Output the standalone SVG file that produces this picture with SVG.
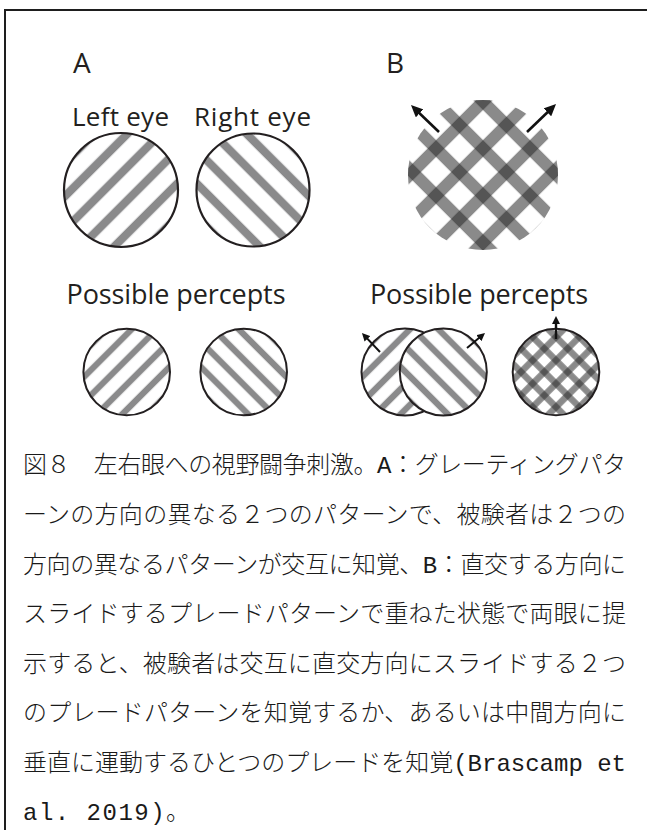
<svg xmlns="http://www.w3.org/2000/svg" width="647" height="830" viewBox="0 0 647 830">
  <style>
    .frame { fill: none; stroke: #1e1e1e; stroke-width: 2; }
    .panel { font-family: "Open Sans", "Noto Sans", sans-serif; fill: #231f20; }
    .ring { fill: none; stroke: #231f20; stroke-width: 2.2; }
    .ring-s { fill: none; stroke: #231f20; stroke-width: 2; }
    .arrow { stroke: #111; fill: none; }
    .cap { font-family: "Liberation Mono", "Noto Sans CJK JP", monospace; font-size: 24px; font-weight: 300; fill: #1a1a1a; }
  </style>
  <defs>
    <!-- single-orientation gratings; stripes are centred at ±p/2, ±3p/2 about the local origin -->
    <pattern id="grating-lg" patternUnits="userSpaceOnUse" x="0" y="-100" width="23.5" height="200">
      <rect x="7.6" y="-100" width="8.3" height="400" fill="#8a8a8b"/>
    </pattern>
    <pattern id="grating-sm" patternUnits="userSpaceOnUse" x="0" y="-100" width="17.8" height="200">
      <rect x="5.75" y="-100" width="6.3" height="400" fill="#8a8a8b"/>
    </pattern>
    <!-- translucent bars for plaids: overlaps come out darker -->
    <pattern id="plaid-lg" patternUnits="userSpaceOnUse" x="0" y="-150" width="33.2" height="300">
      <rect x="10.6" y="-150" width="12" height="600" fill="#292929" fill-opacity="0.55"/>
    </pattern>
    <pattern id="plaid-sm" patternUnits="userSpaceOnUse" x="0" y="-100" width="16.5" height="200">
      <rect x="5" y="-100" width="6.5" height="400" fill="#292929" fill-opacity="0.55"/>
    </pattern>
    <clipPath id="clip-plaid" clipPathUnits="userSpaceOnUse">
      <circle cx="483" cy="175" r="75"/>
    </clipPath>
    <marker id="head-lg" markerUnits="userSpaceOnUse" markerWidth="12" markerHeight="11" refX="6" refY="5.5" orient="auto">
      <path d="M0,0 L12,5.5 L0,11 z" fill="#111"/>
    </marker>
    <marker id="head-sm" markerUnits="userSpaceOnUse" markerWidth="8" markerHeight="8" refX="4" refY="4" orient="auto">
      <path d="M0,0 L8,4 L0,8 z" fill="#111"/>
    </marker>
  </defs>

  <!-- box edges -->
  <path class="frame" d="M5,830 V10 H647"/>

  <!-- panel A -->
  <g id="panel-a">
    <text class="panel" x="73" y="73" font-size="28">A</text>
    <text class="panel" x="72" y="126" font-size="26" textLength="97" lengthAdjust="spacing">Left eye</text>
    <text class="panel" x="194" y="126" font-size="26" textLength="117" lengthAdjust="spacing">Right eye</text>
    <text class="panel" x="66.5" y="304" font-size="27" textLength="219" lengthAdjust="spacing">Possible percepts</text>
  </g>

  <g id="left-eye" transform="translate(121,190)">
    <circle r="57" fill="url(#grating-lg)" transform="rotate(45)"/>
    <circle r="57" class="ring"/>
  </g>
  <g id="right-eye" transform="translate(253,190)">
    <circle r="56.5" fill="url(#grating-lg)" transform="rotate(-45)"/>
    <circle r="56.5" class="ring"/>
  </g>
  <g id="percept-a1" transform="translate(126.7,372)">
    <circle r="43.3" fill="url(#grating-sm)" transform="rotate(45)"/>
    <circle r="43.3" class="ring-s"/>
  </g>
  <g id="percept-a2" transform="translate(243.7,372)">
    <circle r="43.3" fill="url(#grating-sm)" transform="rotate(-45)"/>
    <circle r="43.3" class="ring-s"/>
  </g>

  <!-- panel B -->
  <g id="panel-b">
    <text class="panel" x="386" y="73" font-size="28">B</text>
    <text class="panel" x="370" y="304" font-size="27" textLength="218" lengthAdjust="spacing">Possible percepts</text>
  </g>

  <g id="plaid" clip-path="url(#clip-plaid)">
    <g transform="translate(483,172) rotate(45)">
      <rect x="-120" y="-120" width="240" height="240" fill="url(#plaid-lg)"/>
    </g>
    <g transform="translate(483,172) rotate(-45)">
      <rect x="-120" y="-120" width="240" height="240" fill="url(#plaid-lg)"/>
    </g>
  </g>

  <g id="percept-b1" transform="translate(405,372)">
    <circle r="43.5" fill="url(#grating-sm)" transform="rotate(45)"/>
    <circle r="43.5" class="ring-s"/>
  </g>
  <g id="percept-b2" transform="translate(443.3,372)">
    <circle r="43.5" fill="#fff"/>
    <circle r="43.5" fill="url(#grating-sm)" transform="rotate(-45)"/>
    <circle r="43.5" class="ring-s"/>
  </g>
  <g id="percept-b3" transform="translate(556,372)">
    <circle r="43.3" fill="url(#plaid-sm)" transform="rotate(45)"/>
    <circle r="43.3" fill="url(#plaid-sm)" transform="rotate(-45)"/>
    <circle r="43.3" class="ring-s"/>
  </g>

  <!-- motion-direction arrows -->
  <g id="connectors">
    <line class="arrow" stroke-width="2.6" x1="439" y1="132" x2="415.3" y2="109.2" marker-end="url(#head-lg)"/>
    <line class="arrow" stroke-width="2.6" x1="527" y1="132" x2="551.7" y2="108.2" marker-end="url(#head-lg)"/>
    <line class="arrow" stroke-width="2" x1="380" y1="352" x2="364.7" y2="335.9" marker-end="url(#head-sm)"/>
    <line class="arrow" stroke-width="2" x1="467" y1="348" x2="481.9" y2="335.6" marker-end="url(#head-sm)"/>
    <line class="arrow" stroke-width="2.4" x1="556" y1="339" x2="556" y2="320" marker-end="url(#head-sm)"/>
  </g>

  <!-- caption -->
  <g id="caption" class="cap">
    <text x="23" y="473" textLength="603" lengthAdjust="spacing">図８　左右眼への視野闘争刺激。A：グレーティングパタ</text>
    <text x="23" y="523" textLength="603" lengthAdjust="spacing">ーンの方向の異なる２つのパターンで、被験者は２つの</text>
    <text x="23" y="573" textLength="603" lengthAdjust="spacing">方向の異なるパターンが交互に知覚、B：直交する方向に</text>
    <text x="23" y="622" textLength="603" lengthAdjust="spacing">スライドするプレードパターンで重ねた状態で両眼に提</text>
    <text x="23" y="672" textLength="603" lengthAdjust="spacing">示すると、被験者は交互に直交方向にスライドする２つ</text>
    <text x="23" y="721" textLength="603" lengthAdjust="spacing">のプレードパターンを知覚するか、あるいは中間方向に</text>
    <text x="23" y="771" textLength="603" lengthAdjust="spacing">垂直に運動するひとつのプレードを知覚(Brascamp et</text>
    <text x="23" y="820" letter-spacing="1.5">al. 2019)。</text>
  </g>
</svg>
